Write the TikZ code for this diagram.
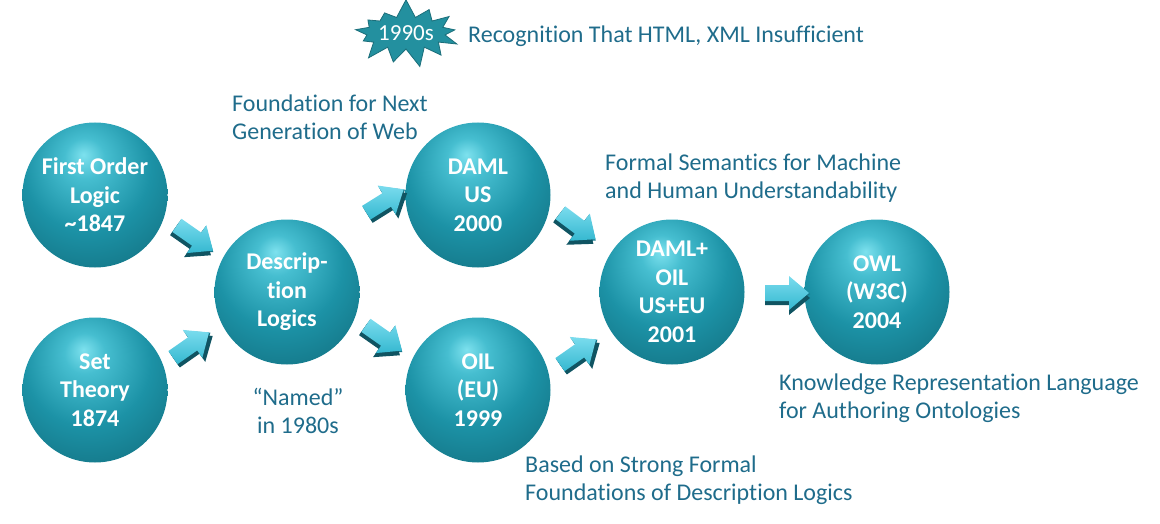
\documentclass[tikz,border=0pt]{standalone}
\usepackage{fontspec}
\setmainfont[Ligatures={NoCommon}]{Carlito}
\usetikzlibrary{shapes.symbols}
\definecolor{lbl}{HTML}{1F6C8B}
\definecolor{burst}{HTML}{23909F}
\definecolor{burstedge}{HTML}{1B6E7A}
\definecolor{arlight}{HTML}{7ADCEE}
\definecolor{armid}{HTML}{35B8D0}
\definecolor{ardark}{HTML}{17788C}
\pgfdeclareradialshading{sph}{\pgfpoint{-4bp}{14bp}}{%
 color(0bp)=(rgb,255:red,125;green,225;blue,238);
 color(7bp)=(rgb,255:red,70;green,190;blue,208);
 color(22bp)=(rgb,255:red,28;green,146;blue,166);
 color(40bp)=(rgb,255:red,18;green,110;blue,126);
 color(55bp)=(rgb,255:red,10;green,68;blue,80);
 color(70bp)=(rgb,255:red,8;green,52;blue,62)}
\tikzset{
 sphere/.style={circle, minimum size=145pt, inner sep=0pt, shading=sph,
   text=white, font=\fontsize{24}{28.5}\selectfont\bfseries, align=center},
 lab/.style={text=lbl, font=\fontsize{24}{28}\selectfont, inner sep=0pt},
 barrow/.pic={
   \fill[ardark] (-22,-7) -- (2,-7) -- (2,-16) -- (23,1) -- (2,18) -- (2,11) -- (-22,11) -- cycle;
   \fill[ardark!70!black] (-22,-3) -- (2,-3) -- (2,-12) -- (23,5) -- (2,22) -- (2,12) -- (-22,12) -- cycle;
   \shade[top color=arlight, bottom color=armid] (-22,-8) -- (2,-8) -- (2,-17) -- (22,0) -- (2,17) -- (2,8) -- (-22,8) -- cycle;
 },
}
\begin{document}
\begin{tikzpicture}[x=1pt,y=-1pt]
\useasboundingbox (0,0) rectangle (1160,524);
% starburst
\node[starburst, starburst points=13, starburst point height=19pt, random starburst=7,
  minimum width=110pt, minimum height=70pt, fill=burst, draw=burstedge, line width=0.8pt,
  text=white, font=\fontsize{23}{28}\selectfont, inner sep=0pt] (burst) at (406,33) {1990s};
\node[lab, anchor=west] (rec) at (468,36) {Recognition That HTML, XML Insufficient};
% spheres
\node[sphere] (fol) at (95,195) {First Order\\Logic\\\textasciitilde1847};
\node[sphere] (set) at (95,390) {Set\\Theory\\1874};
\node[sphere] (dl) at (287,292) {Descrip-\\tion\\Logics};
\node[sphere] (daml) at (478,195) {DAML\\US\\2000};
\node[sphere] (oil) at (478,390) {OIL\\(EU)\\1999};
\node[sphere] (dOil) at (672,292) {DAML+\\OIL\\US+EU\\2001};
\node[sphere] (owl) at (877,292) {OWL\\(W3C)\\2004};
% arrows
\pic[rotate=-35] (a1) at (195,238) {barrow};
\pic[rotate=35] (a2) at (191,345) {barrow};
\pic[rotate=32] (a3) at (385,201) {barrow};
\pic[rotate=-35] (a4) at (384,338) {barrow};
\pic[rotate=-37] (a5) at (578,226) {barrow};
\pic[rotate=35] (a6) at (578,352) {barrow};
\pic (a7) at (787,293) {barrow};
% labels
\node[lab, anchor=west, align=left] (found) at (232,117) {Foundation for Next\\Generation of Web};
\node[lab, anchor=west, align=left] (formal) at (605,178) {Formal Semantics for Machine\\and Human Understandability};
\node[lab, align=center] (named) at (298,411) {“Named”\\in 1980s};
\node[lab, anchor=west, align=left] (based) at (525,480) {Based on Strong Formal\\Foundations of Description Logics};
\node[lab, anchor=west, align=left] (know) at (779,398) {Knowledge Representation Language\\for Authoring Ontologies};
\end{tikzpicture}
\end{document}
